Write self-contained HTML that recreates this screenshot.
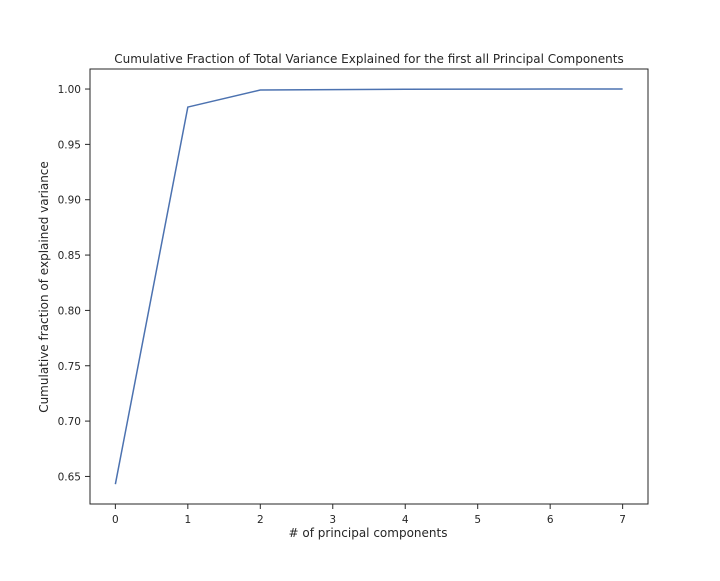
<!DOCTYPE html>
<html><head><meta charset="utf-8">
<style>
body{margin:0;background:#fff;}
svg text{font-family:"DejaVu Sans","Liberation Sans",sans-serif;fill:#262626;}
</style></head>
<body>
<svg id="chart" width="720" height="576" viewBox="0 0 720 576" xmlns="http://www.w3.org/2000/svg">
<rect width="720" height="576" fill="#fff"/>
<text x="369" y="63" text-anchor="middle" font-size="12">Cumulative Fraction of Total Variance Explained for the first all Principal Components</text>
<text x="368" y="537" text-anchor="middle" font-size="12"># of principal components</text>
<text transform="translate(48,287) rotate(-90)" text-anchor="middle" font-size="12">Cumulative fraction of explained variance</text>
<g id="ticks"></g>
<path id="line" fill="none" stroke="#4c72b0" stroke-width="1.5"/>
<rect x="90" y="69" width="558" height="435" fill="none" stroke="#262626" stroke-width="1"/>
</svg>
<script>
const components=[0,1,2,3,4,5,6,7];
const cumVariance=[0.643,0.9837,0.9991,0.9995,0.9998,0.9999,1.0,1.0];
const xTicks=[0,1,2,3,4,5,6,7];
const yTicks=[0.65,0.70,0.75,0.80,0.85,0.90,0.95,1.00];
const L=90,R=648,T=69,B=504;
const xMin=-0.35,xMax=7.35,yMin=0.6251,yMax=1.0181;
function xs(v){return L+(v-xMin)/(xMax-xMin)*(R-L);}
function ys(v){return B-(v-yMin)/(yMax-yMin)*(B-T);}
const NS="http://www.w3.org/2000/svg";
const g=document.getElementById('ticks');
xTicks.forEach(t=>{
 const l=document.createElementNS(NS,'line');
 l.setAttribute('x1',xs(t));l.setAttribute('x2',xs(t));l.setAttribute('y1',B);l.setAttribute('y2',B+5);
 l.setAttribute('stroke','#262626');
 
 
 g.appendChild(l);
 const tx=document.createElementNS(NS,'text');
 tx.setAttribute('x',xs(t));tx.setAttribute('y',B+19);tx.setAttribute('text-anchor','middle');tx.setAttribute('font-size','10.5');
 tx.textContent=t;
 
 
 g.appendChild(tx);
});
yTicks.forEach(t=>{
 const l=document.createElementNS(NS,'line');
 l.setAttribute('x1',L-5);l.setAttribute('x2',L);l.setAttribute('y1',ys(t));l.setAttribute('y2',ys(t));
 l.setAttribute('stroke','#262626');
 
 
 g.appendChild(l);
 const tx=document.createElementNS(NS,'text');
 tx.setAttribute('x',L-9);tx.setAttribute('y',ys(t)+4);tx.setAttribute('text-anchor','end');tx.setAttribute('font-size','10.5');
 tx.textContent=t.toFixed(2);
 
 
 g.appendChild(tx);
});
document.getElementById('line').setAttribute('d',components.map((c,i)=>(i?'L':'M')+xs(c)+','+ys(cumVariance[i])).join(' '));
</script>
</body></html>
